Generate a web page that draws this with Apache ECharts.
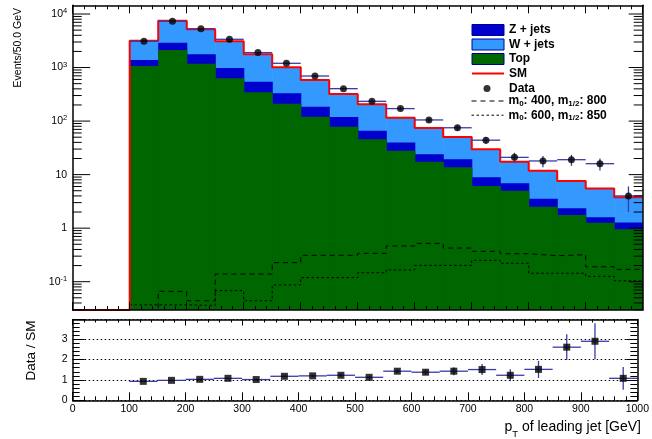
<!DOCTYPE html>
<html><head><meta charset="utf-8">
<script src="https://cdn.jsdelivr.net/npm/echarts@6/dist/echarts.min.js"></script>
<style>html,body{margin:0;padding:0;background:#fff}#c{width:652px;height:439px}</style>
</head><body><div id="c"></div>
<script>
// ---------- data ----------
const EDGES = [100,150,200,250,300,350,400,450,500,550,600,650,700,750,800,850,900,950,1000];
const TOP   = [1070,2130,1180,630,345,211,121,78.5,45.7,28,17.4,13.7,6.1,5.0,2.52,1.76,1.26,0.955];
const ZJETS = [310,780,590,350,200,119,65,40.5,20.3,12,6.6,5.6,2.8,1.9,1.03,0.59,0.34,0.325];
const WJETS = [1780,4590,3410,2110,1225,680,399,201,140,76,50,31.2,20.8,10.5,8.25,5.25,3.9,2.49];
const DATA     = [3100,7300,5300,3370,1900,1200,695,403,234,171,105,75,44,21,18,19,16,4];
const DATA_ERR = [56,85,73,58,44,35,26,20,15,13,10,8.7,6.6,4.6,4.2,4.4,4.0,2.0];
const SIG_A = [0.01,0.066,0.044,0.139,0.139,0.227,0.311,0.311,0.339,0.465,0.52,0.425,0.37,0.333,0.306,0.319,0.19,0.17];
const SIG_B = [0.037,0.037,0.036,0.068,0.044,0.087,0.119,0.119,0.147,0.166,0.202,0.202,0.251,0.221,0.144,0.144,0.126,0.104];
const RATIO     = [0.93,0.98,1.03,1.08,1.02,1.18,1.20,1.23,1.13,1.43,1.38,1.43,1.51,1.23,1.52,2.61,2.90,1.08];
const RATIO_ERR = [0.02,0.015,0.02,0.025,0.03,0.04,0.05,0.07,0.07,0.09,0.12,0.2,0.27,0.29,0.42,0.63,0.88,0.56];
const MAIN_Y_MAJOR  = [0.1, 1, 10, 100, 1000, 10000];
const MAIN_Y_LABELS = [['10','-1'],['1',''],['10',''],['10','2'],['10','3'],['10','4']];
const YMIN = 0.0296, YMAX = 14540, RATIO_MAX = 3.97;
const LEGEND_NAMES = ['Z + jets','W + jets','Top','SM','Data','sigA','sigB'];

// ---------- styles ----------
const FONT = '"Liberation Sans", Arial, Helvetica, sans-serif';
const C_TOP = '#006600', C_Z = '#0000cc', C_W = '#3399ff', C_SM = '#ff0000', C_ERR = '#3a3aa8';

const cumZ = TOP.map((t,i) => t + ZJETS[i]);
const cumW = cumZ.map((z,i) => z + WJETS[i]);
const mid = i => (EDGES[i] + EDGES[i+1]) / 2;

function binRects(vals){ return vals.map((v,i) => [EDGES[i], EDGES[i+1], YMIN, v]); }
function stepLine(vals, fromZero){
  const pts = [];
  if (fromZero) pts.push([0, YMIN]);
  pts.push([EDGES[0], YMIN]);
  vals.forEach((v,i) => { pts.push([EDGES[i], v], [EDGES[i+1], v]); });
  return pts;
}
function rectItem(params, api){
  const p1 = api.coord([api.value(0), api.value(3)]);
  const p2 = api.coord([api.value(1), api.value(2)]);
  const cs = params.coordSys;
  const shape = echarts.graphic.clipRectByRect(
    {x:p1[0], y:p1[1], width:p2[0]-p1[0]+0.6, height:p2[1]-p1[1]},
    {x:cs.x, y:cs.y, width:cs.width, height:cs.height});
  return shape && {type:'rect', shape, style:{fill: api.visual('color')}};
}
function errItem(params, api){
  const c = api.value(0), v = api.value(1), e = api.value(2), lo = api.value(3), hi = api.value(4);
  const h1 = api.coord([lo, v]), h2 = api.coord([hi, v]);
  const v1 = api.coord([c, Math.max(v - e, 1e-3)]), v2 = api.coord([c, v + e]);
  const st = {stroke: C_ERR, lineWidth: 1.3};
  return {type:'group', children:[
    {type:'line', shape:{x1:h1[0], y1:h1[1], x2:h2[0], y2:h2[1]}, style:st},
    {type:'line', shape:{x1:v1[0], y1:v1[1], x2:v2[0], y2:v2[1]}, style:st}
  ]};
}
const tickData = [];
MAIN_Y_MAJOR.forEach((v,i) => tickData.push([0, v, 1, i]));
[0.01,0.1,1,10,100,1000,10000].forEach(d => { for (let m = 2; m <= 9; m++){ const v = d*m; if (v > YMIN && v < YMAX) tickData.push([0, v, 0, -1]); } });
const supRich = {
  b:{fontSize:10.5, fontFamily:FONT, fill:'#000', verticalAlign:'middle', lineHeight:14},
  s:{fontSize:7.5, fontFamily:FONT, fill:'#000', verticalAlign:'top'}
};
function yTick(params, api){
  const v = api.value(1), maj = api.value(2), li = api.value(3);
  const cs = params.coordSys;
  const y = api.coord([0, v])[1];
  const L = maj ? 17.5 : 9, R = maj ? 14 : 9;
  const st = {stroke:'#000', lineWidth:1};
  const ch = [
    {type:'line', shape:{x1:cs.x, y1:y, x2:cs.x+L, y2:y}, style:st},
    {type:'line', shape:{x1:cs.x+cs.width-R, y1:y, x2:cs.x+cs.width, y2:y}, style:st}
  ];
  if (maj){
    const lab = MAIN_Y_LABELS[li];
    const txt = '{b|' + lab[0] + '}' + (lab[1] ? '{s|' + lab[1] + '}' : '');
    ch.push({type:'text', style:{text:txt, x:cs.x-5.5, y:y, align:'right', verticalAlign:'middle', rich:supRich}});
  }
  return {type:'group', children:ch};
}
function mkX(grid, pos, labels, maj, mn){
  return {gridIndex:grid, type:'value', position:pos, min:0, max:1000, interval:100, z:10,
    axisLine:{show:true, onZero:false, lineStyle:{color:'#000', width:1.5}},
    axisTick:{show:true, inside:true, length:maj, lineStyle:{color:'#000', width:1}},
    minorTick:{show:true, splitNumber:5, length:mn, lineStyle:{color:'#000', width:1}},
    axisLabel:{show:labels, color:'#000', fontSize:10.5, fontFamily:FONT, margin:3, formatter: v => String(v)},
    splitLine:{show:false}};
}
function mkLogY(pos){
  return {gridIndex:0, type:'log', logBase:10, min:YMIN, max:YMAX, position:pos, z:10,
    axisLine:{show:true, onZero:false, lineStyle:{color:'#000', width:1.5}},
    axisTick:{show:false}, minorTick:{show:false}, axisLabel:{show:false}, splitLine:{show:false}};
}
function mkRatioY(pos, labels){
  return {gridIndex:1, type:'value', min:0, max:RATIO_MAX, interval:1, position:pos, z: labels ? 1 : 10,
    axisLine:{show:true, onZero:false, lineStyle:{color:'#000', width:1.5}},
    axisTick:{show:true, inside:true, length: labels ? 12 : 11, lineStyle:{color:'#000', width:1}},
    minorTick:{show:true, splitNumber:5, length:7, lineStyle:{color:'#000', width:1}},
    axisLabel:{show:labels, color:'#000', fontSize:10.5, fontFamily:FONT, margin:5,
      formatter: v => Math.abs(v - Math.round(v)) < 1e-6 ? String(Math.round(v)) : ''},
    splitLine:{show:labels, lineStyle:{color:'#000', width:1, type:[1.5,2.5]}}};
}
const legRich = {
  t:{fontSize:12, fontWeight:'bold', fontFamily:FONT, color:'#000', lineHeight:14, verticalAlign:'middle'},
  d:{fontSize:12, fontWeight:'bold', fontFamily:FONT, color:'#000', lineHeight:14, verticalAlign:'middle', padding:[0,0,0,13.5]},
  s:{fontSize:8, fontWeight:'bold', fontFamily:FONT, color:'#000', verticalAlign:'top', padding:[6,0,0,0]}
};
const legText = {
  'Z + jets':'{t|Z + jets}', 'W + jets':'{t|W + jets}', 'Top':'{t|Top}', 'SM':'{t|SM}', 'Data':'{d|Data}',
  'sigA':'{t|m}{s|0}{t|: 400, m}{s|1/2}{t|: 800}', 'sigB':'{t|m}{s|0}{t|: 600, m}{s|1/2}{t|: 850}'
};
function mkLegend(left, top, w, h, gap, data){
  return {orient:'vertical', left:left, top:top, padding:0, itemWidth:w, itemHeight:h, itemGap:gap,
    selectedMode:false, formatter: n => legText[n], textStyle:{rich:legRich, fontFamily:FONT}, data:data};
}
const box = (n,c) => ({name:n, icon:'rect', itemStyle:{color:c, borderColor:'#000099', borderWidth:1}});
const noSym = {color:'rgba(0,0,0,0)', borderColor:'rgba(0,0,0,0)', borderWidth:0, opacity:0};

const option = {
  animation:false, backgroundColor:'#fff',
  grid:[{left:72.7, right:9.3, top:5.3, bottom:129}, {left:72.7, right:9.3, top:319.5, bottom:38.7}],
  xAxis:[mkX(0,'bottom',false,8,4), mkX(0,'top',false,8,4), mkX(1,'bottom',true,8,4), mkX(1,'top',false,6,3)],
  yAxis:[mkLogY('left'), mkLogY('right'), mkRatioY('left', true), mkRatioY('right', false)],
  legend:[
    mkLegend(471, 24, 32, 11, 2.5, [box(LEGEND_NAMES[0], C_Z), box(LEGEND_NAMES[1], C_W), box(LEGEND_NAMES[2], C_TOP),
      {name:LEGEND_NAMES[3], itemStyle:noSym, lineStyle:{color:C_SM, width:2}}]),
    mkLegend(483.5, 82.5, 7, 7, 0, [{name:LEGEND_NAMES[4], icon:'circle', itemStyle:{color:'#000'}}]),
    mkLegend(471, 95, 32, 11, 1.2, [{name:LEGEND_NAMES[5], itemStyle:noSym, lineStyle:{color:'#000', width:1, type:[5,4]}},
      {name:LEGEND_NAMES[6], itemStyle:noSym, lineStyle:{color:'#000', width:1, type:[2.5,2.5]}}])
  ],
  series:[
    {name:'W + jets', type:'custom', xAxisIndex:0, yAxisIndex:0, renderItem:rectItem, itemStyle:{color:C_W},
      encode:{x:[0,1], y:[2,3]}, data:binRects(cumW), z:1},
    {name:'Z + jets', type:'custom', xAxisIndex:0, yAxisIndex:0, renderItem:rectItem, itemStyle:{color:C_Z},
      encode:{x:[0,1], y:[2,3]}, data:binRects(cumZ), z:1},
    {name:'Top', type:'custom', xAxisIndex:0, yAxisIndex:0, renderItem:rectItem, itemStyle:{color:C_TOP},
      encode:{x:[0,1], y:[2,3]}, data:binRects(TOP), z:1},
    {name:'sigA', type:'line', xAxisIndex:0, yAxisIndex:0, symbol:'none', clip:true, z:3,
      lineStyle:{color:'#000', width:1, type:[5,4]}, data:stepLine(SIG_A, false)},
    {name:'sigB', type:'line', xAxisIndex:0, yAxisIndex:0, symbol:'none', clip:true, z:3,
      lineStyle:{color:'#000', width:1, type:[2.5,2.5]}, data:stepLine(SIG_B, false)},
    {name:'SM', type:'line', xAxisIndex:0, yAxisIndex:0, symbol:'none', clip:true, z:4,
      lineStyle:{color:C_SM, width:2}, data:stepLine(cumW, true)},
    {name:'dataErr', type:'custom', xAxisIndex:0, yAxisIndex:0, renderItem:errItem, z:5,
      encode:{x:[0,3,4], y:[1]}, data:DATA.map((v,i) => [mid(i), v, DATA_ERR[i], EDGES[i], EDGES[i+1]])},
    {name:'Data', type:'scatter', xAxisIndex:0, yAxisIndex:0, symbol:'circle', symbolSize:7, z:6,
      itemStyle:{color:'#000'}, data:DATA.map((v,i) => [mid(i), v])},
    {name:'ratioErr', type:'custom', xAxisIndex:2, yAxisIndex:2, renderItem:errItem, z:5,
      encode:{x:[0,3,4], y:[1]}, data:RATIO.map((v,i) => [mid(i), v, RATIO_ERR[i], EDGES[i], EDGES[i+1]])},
    {name:'ratio', type:'scatter', xAxisIndex:2, yAxisIndex:2, symbol:'rect', symbolSize:7, z:6,
      itemStyle:{color:'#000'}, data:RATIO.map((v,i) => [mid(i), v])},
    {name:'yTicks', type:'custom', xAxisIndex:0, yAxisIndex:0, renderItem:yTick, z:10, silent:true,
      encode:{x:[0], y:[1]}, data:tickData}
  ],
  graphic:[
    {type:'text', x:18, y:8, rotation:Math.PI/2, style:{text:'Events/50.0 GeV', fontSize:10.5, fontFamily:FONT, fill:'#000', align:'right', verticalAlign:'middle'}},
    {type:'text', x:31, y:320.5, rotation:Math.PI/2, style:{text:'Data / SM', fontSize:13.5, fontFamily:FONT, fill:'#000', align:'right', verticalAlign:'middle'}},
    {type:'text', x:641, y:427, style:{text:'{a|p}{sub|T}{a| of leading jet [GeV]}', align:'right', verticalAlign:'middle',
      rich:{a:{fontSize:14, fontFamily:FONT, fill:'#000', verticalAlign:'middle'},
            sub:{fontSize:9.5, fontFamily:FONT, fill:'#000', verticalAlign:'top', padding:[15,0,0,0]}}}}
  ]
};
const chart = echarts.init(document.getElementById('c'), null, {renderer:'canvas'});
chart.setOption(option);
</script></body></html>
